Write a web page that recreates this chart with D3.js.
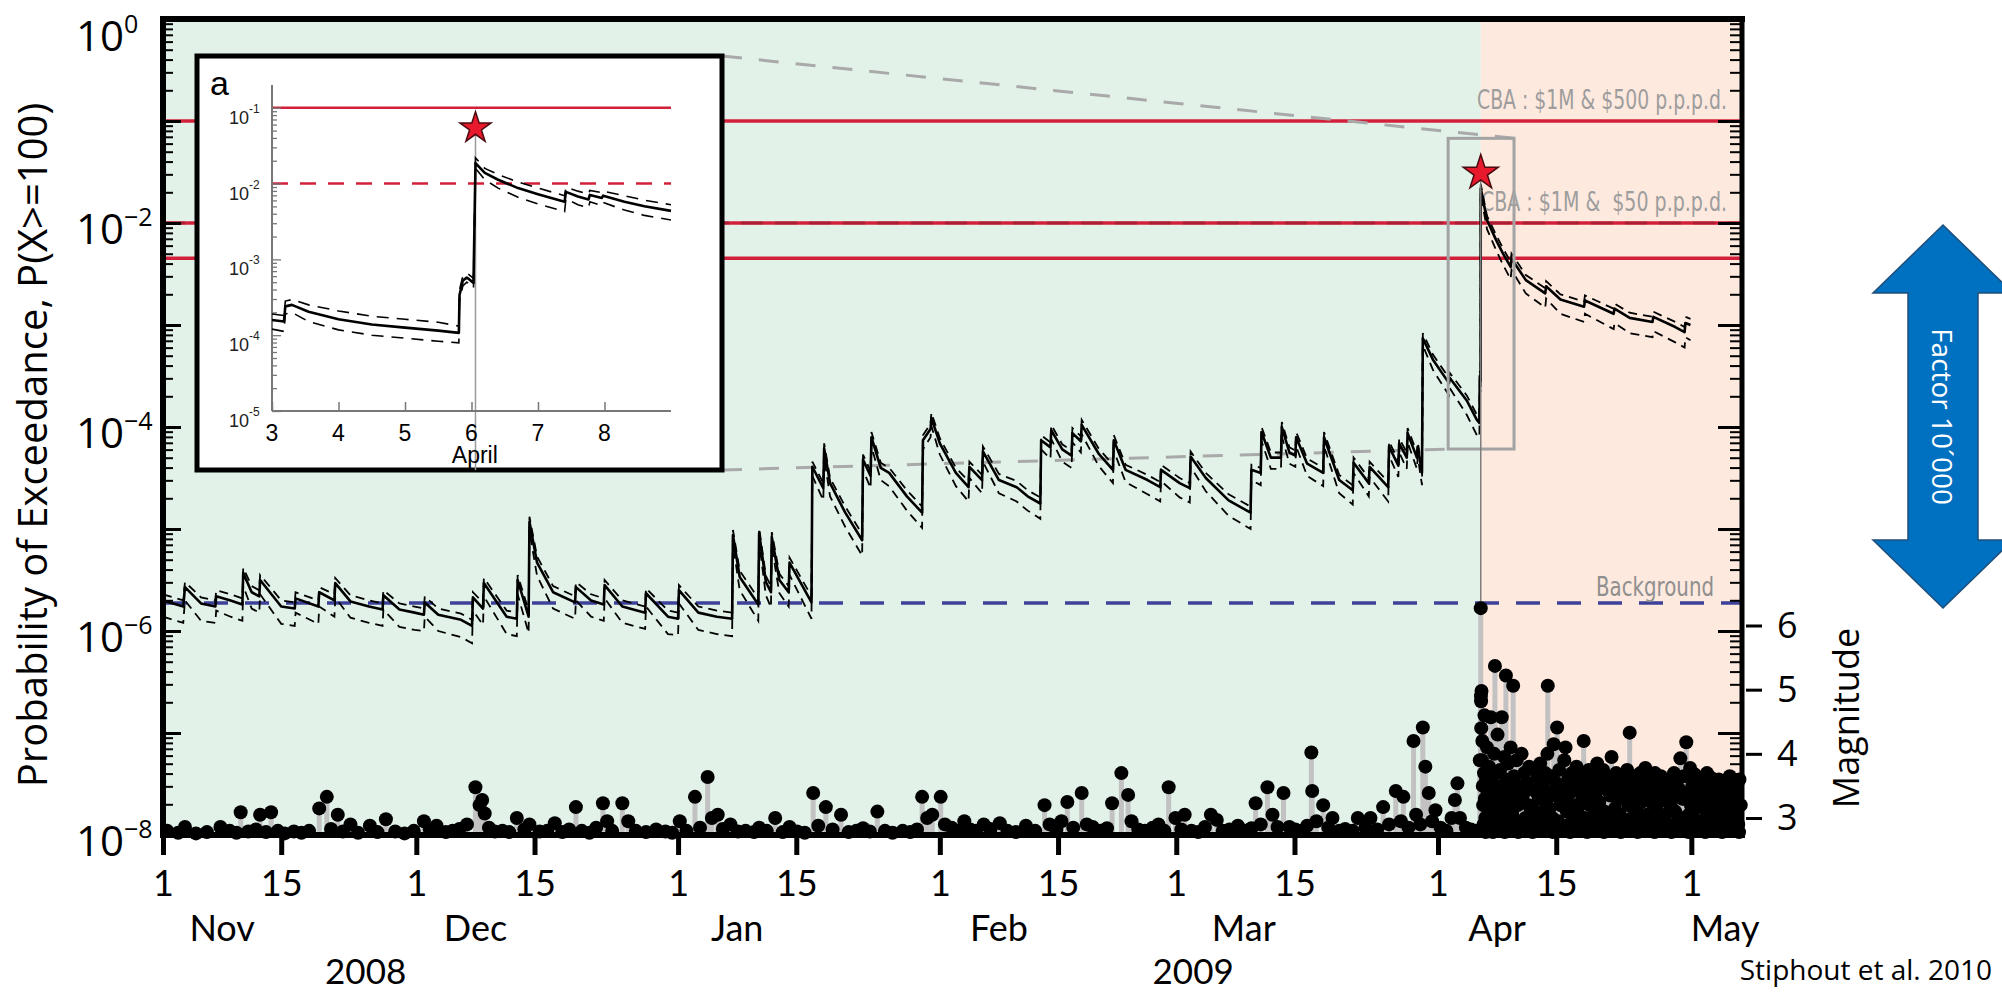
<!DOCTYPE html>
<html>
<head>
<meta charset="utf-8">
<script src="https://cdn.jsdelivr.net/npm/d3@7"></script>
<style>
  html, body { margin: 0; padding: 0; background: #ffffff; overflow: hidden; }
  svg { display: block; }
</style>
</head>
<body>
<svg id="chart" width="2002" height="995"></svg>
<script>
// ---------- data ----------
// x-axis ticks and labels
const monthTicks = ["2008-11-01","2008-11-15","2008-12-01","2008-12-15","2009-01-01","2009-01-15",
  "2009-02-01","2009-02-15","2009-03-01","2009-03-15","2009-04-01","2009-04-15","2009-05-01"];
const monthNames = ["Nov","Dec","Jan","Feb","Mar","Apr","May"];
const monthNameDates = ["2008-11-08","2008-12-08","2009-01-08","2009-02-08","2009-03-09","2009-04-08","2009-05-05"];
const yearNames = ["2008","2009"];
const yearDates = ["2008-11-25","2009-03-03"];

// y-axis labels (decade exponents) and magnitude ticks
const probDecadeLabels = [0, -2, -4, -6, -8];
const magTicks = [3, 4, 5, 6];

// action thresholds and background probability
const thresholds = [0.1, 0.01, 0.0045];
const thresholdLabels = ["CBA : $1M & $500 p.p.p.d.", "CBA : $1M &  $50 p.p.p.d."];
const backgroundLevel = 1.88e-6;

// 6 April 2009 mainshock (days after 1 Nov 2008)
const mainshockDay = 156.06;
const mainshockProb = 0.031;

// highlighted window shown enlarged in panel a: [startDay, endDay], [log10 low, log10 high]
const windowDays = [152.2, 160.0];
const windowLogP = [-4.216, -1.17];

// daily probability P(X>=100): [day after 1 Nov 2008, log10 P, log10 lower, log10 upper]
const probSeries = [
  [0,-5.70,-5.86,-5.64],[2.4,-5.76,-5.92,-5.70],[2.6,-5.57,-5.70,-5.52],[4.5,-5.73,-5.90,-5.67],
  [6.2,-5.76,-5.92,-5.70],[6.3,-5.66,-5.80,-5.60],[8.0,-5.70,-5.86,-5.64],[9.4,-5.74,-5.90,-5.68],
  [9.5,-5.43,-5.56,-5.38],[10.5,-5.62,-5.78,-5.56],[11.4,-5.66,-5.82,-5.60],[11.5,-5.50,-5.64,-5.45],
  [14.0,-5.76,-5.93,-5.70],[15.6,-5.78,-5.95,-5.72],[15.7,-5.68,-5.82,-5.62],[18.4,-5.76,-5.93,-5.70],
  [18.5,-5.62,-5.76,-5.57],[20.3,-5.70,-5.86,-5.64],[20.4,-5.53,-5.67,-5.48],[22.2,-5.71,-5.87,-5.65],
  [24.4,-5.76,-5.92,-5.70],[26.0,-5.79,-5.95,-5.73],[26.1,-5.65,-5.79,-5.60],[28.0,-5.79,-5.96,-5.73],
  [29.8,-5.82,-5.99,-5.76],[30.9,-5.84,-6.00,-5.78],[31.0,-5.72,-5.86,-5.66],[32.6,-5.84,-6.00,-5.78],
  [35.3,-5.89,-6.06,-5.83],[36.6,-5.95,-6.12,-5.89],[36.7,-5.67,-5.80,-5.62],[37.9,-5.78,-5.94,-5.72],
  [38.0,-5.53,-5.66,-5.48],[40.7,-5.86,-6.03,-5.80],[41.9,-5.88,-6.05,-5.82],[42.0,-5.50,-5.64,-5.45],
  [43.3,-5.86,-6.02,-5.80],[43.4,-4.93,-5.02,-4.88],[44.3,-5.33,-5.46,-5.27],[46.2,-5.62,-5.78,-5.56],
  [48.8,-5.72,-5.88,-5.66],[48.9,-5.57,-5.70,-5.52],[50.7,-5.70,-5.86,-5.64],[52.2,-5.74,-5.90,-5.68],
  [52.3,-5.55,-5.68,-5.50],[54.4,-5.76,-5.92,-5.70],[57.1,-5.82,-5.98,-5.76],[57.2,-5.63,-5.76,-5.58],
  [59.8,-5.86,-6.03,-5.80],[61.0,-5.88,-6.04,-5.82],[61.1,-5.60,-5.73,-5.55],[63.4,-5.82,-5.99,-5.76],
  [65.6,-5.86,-6.03,-5.80],[67.4,-5.88,-6.05,-5.82],[67.5,-5.06,-5.15,-5.01],[68.3,-5.47,-5.60,-5.41],
  [70.5,-5.74,-5.90,-5.68],[70.6,-5.04,-5.13,-4.99],[71.4,-5.52,-5.65,-5.46],[72.0,-5.62,-5.77,-5.56],
  [72.1,-5.08,-5.17,-5.03],[73.0,-5.50,-5.63,-5.44],[74.1,-5.62,-5.76,-5.56],[74.2,-5.33,-5.45,-5.28],
  [76.8,-5.72,-5.88,-5.66],[76.9,-4.39,-4.48,-4.34],[78.2,-4.60,-4.72,-4.55],[78.3,-4.21,-4.30,-4.16],
  [79.0,-4.55,-4.68,-4.50],[80.8,-4.84,-4.98,-4.78],[82.8,-5.11,-5.26,-5.05],[82.9,-4.32,-4.42,-4.27],
  [83.8,-4.48,-4.60,-4.43],[83.9,-4.10,-4.19,-4.05],[85.0,-4.40,-4.52,-4.35],[86.0,-4.45,-4.58,-4.40],
  [88.1,-4.68,-4.82,-4.62],[89.9,-4.84,-4.99,-4.78],[90.0,-4.13,-4.22,-4.08],[90.9,-4.02,-4.10,-3.97],
  [91.0,-3.91,-3.99,-3.86],[92.0,-4.16,-4.27,-4.11],[93.9,-4.45,-4.58,-4.40],[95.4,-4.59,-4.73,-4.53],
  [95.5,-4.39,-4.50,-4.34],[97.0,-4.52,-4.65,-4.47],[97.1,-4.24,-4.34,-4.19],[99.0,-4.52,-4.65,-4.46],
  [101.1,-4.59,-4.73,-4.53],[102.4,-4.68,-4.82,-4.62],[103.9,-4.75,-4.90,-4.69],[104.0,-4.13,-4.22,-4.08],
  [105.1,-4.20,-4.31,-4.15],[105.2,-4.03,-4.12,-3.98],[106.5,-4.22,-4.34,-4.17],[107.6,-4.28,-4.40,-4.23],
  [107.7,-4.06,-4.15,-4.01],[108.7,-4.14,-4.25,-4.09],[108.8,-3.98,-4.07,-3.93],[110.8,-4.26,-4.38,-4.21],
  [112.5,-4.42,-4.55,-4.37],[112.6,-4.13,-4.23,-4.08],[114.0,-4.42,-4.54,-4.37],[116.6,-4.52,-4.66,-4.47],
  [118.1,-4.59,-4.73,-4.54],[118.2,-4.42,-4.53,-4.37],[120.4,-4.55,-4.69,-4.50],[121.6,-4.60,-4.74,-4.55],
  [121.7,-4.29,-4.39,-4.24],[123.5,-4.50,-4.63,-4.45],[126.2,-4.72,-4.87,-4.66],[128.8,-4.84,-5.00,-4.78],
  [128.9,-4.42,-4.52,-4.37],[130.0,-4.45,-4.57,-4.40],[130.1,-4.05,-4.14,-4.00],[131.2,-4.30,-4.41,-4.25],
  [132.4,-4.30,-4.41,-4.25],[132.5,-4.00,-4.09,-3.95],[133.4,-4.25,-4.36,-4.20],[134.1,-4.28,-4.39,-4.23],
  [134.2,-4.10,-4.19,-4.05],[135.5,-4.36,-4.48,-4.31],[137.4,-4.45,-4.58,-4.40],[137.5,-4.10,-4.19,-4.05],
  [139.3,-4.52,-4.65,-4.47],[140.9,-4.62,-4.76,-4.57],[141.0,-4.35,-4.45,-4.30],[142.8,-4.55,-4.68,-4.50],
  [142.9,-4.39,-4.49,-4.34],[145.1,-4.59,-4.73,-4.54],[145.2,-4.19,-4.28,-4.14],[146.3,-4.38,-4.49,-4.33],
  [146.4,-4.16,-4.25,-4.11],[147.3,-4.30,-4.41,-4.25],[147.4,-4.06,-4.15,-4.01],[148.5,-4.30,-4.41,-4.25],
  [148.6,-4.20,-4.29,-4.15],[149.1,-4.45,-4.57,-4.40],[149.2,-3.13,-3.20,-3.08],[150.4,-3.34,-3.44,-3.29],
  [152.3,-3.57,-3.69,-3.52],[152.4,-3.52,-3.62,-3.47],[154.4,-3.74,-3.88,-3.69],[155.6,-3.93,-4.08,-3.88],
  [155.9,-3.96,-4.10,-3.91],[155.95,-3.50,-3.60,-3.45],[156.05,-3.55,-3.66,-3.50],[156.06,-1.66,-1.72,-1.62],
  [156.8,-1.97,-2.06,-1.93],[157.9,-2.17,-2.27,-2.12],[158.7,-2.30,-2.41,-2.25],[159.6,-2.43,-2.55,-2.38],
  [159.7,-2.35,-2.46,-2.30],[161.4,-2.56,-2.69,-2.51],[163.7,-2.69,-2.83,-2.64],[163.8,-2.62,-2.74,-2.57],
  [165.5,-2.75,-2.89,-2.70],[168.3,-2.82,-2.97,-2.77],[168.4,-2.76,-2.89,-2.71],[171.8,-2.89,-3.04,-2.84],
  [171.9,-2.84,-2.98,-2.79],[173.7,-2.93,-3.08,-2.88],[176.4,-2.97,-3.12,-2.92],[176.5,-2.92,-3.06,-2.87],
  [179.1,-3.02,-3.17,-2.97],[180.2,-3.07,-3.22,-3.02],[180.3,-2.98,-3.12,-2.92],[180.9,-3.00,-3.15,-2.94]
];

// earthquakes before the mainshock: [day after 1 Nov 2008, magnitude]
const quakesBefore = [
  [0.5,2.8],[1.8,2.77],[2.6,2.86],[3.9,2.76],[5.2,2.78],[6.8,2.86],[7.9,2.8],[8.7,2.77],[9.2,3.09],[10.1,2.79],
  [11.0,2.82],[11.5,3.05],[12.2,2.78],[12.8,3.09],[13.6,2.8],[14.4,2.76],[15.5,2.79],[16.4,2.77],[17.3,2.8],[18.5,3.15],
  [19.4,3.33],[19.9,2.83],[20.7,3.05],[21.3,2.79],[22.2,2.9],[23.1,2.77],[24.5,2.88],[25.4,2.78],[26.4,2.98],[27.5,2.79],
  [28.6,2.76],[29.7,2.8],[30.9,2.95],[31.6,2.82],[32.4,2.88],[33.5,2.78],[34.3,2.8],[35.1,2.83],[36.0,2.9],[37.0,3.48],
  [37.5,3.2],[37.8,3.28],[38.1,3.07],[38.6,2.85],[39.3,2.79],[40.2,2.8],[41.0,2.78],[41.9,3.0],[42.8,2.82],[43.4,2.9],
  [44.6,2.79],[45.5,2.8],[46.4,2.92],[47.3,2.78],[48.1,2.82],[48.9,3.17],[49.6,2.8],[50.5,2.77],[51.3,2.85],[52.1,3.23],
  [52.6,2.95],[53.2,2.8],[54.4,3.23],[55.1,2.95],[56.0,2.8],[57.2,2.78],[58.4,2.82],[59.5,2.79],[60.3,2.77],[61.2,2.95],
  [62.0,2.8],[63.0,3.33],[63.6,2.85],[64.5,3.64],[65.0,3.0],[65.7,3.05],[66.3,2.83],[67.2,2.9],[68.1,2.79],[69.0,2.8],
  [70.0,2.78],[70.6,2.85],[71.5,2.8],[72.5,3.0],[73.4,2.78],[74.2,2.86],[75.1,2.79],[76.0,2.77],[77.0,3.39],[77.6,2.88],
  [78.5,3.17],[79.3,2.82],[80.3,3.05],[81.2,2.78],[82.1,2.8],[82.9,2.84],[83.7,2.79],[84.6,3.1],[85.5,2.8],[86.4,2.77],
  [87.6,2.8],[88.5,2.78],[89.3,2.82],[89.9,3.33],[90.5,3.0],[91.1,3.05],[92.1,3.33],[92.6,2.9],[93.4,2.85],[94.1,2.8],
  [94.9,2.95],[95.6,2.82],[96.3,2.8],[97.2,2.9],[98.0,2.83],[99.1,2.92],[100.0,2.8],[101.0,2.78],[102.2,2.88],[103.3,2.8],
  [104.4,3.2],[105.0,2.9],[105.8,2.82],[106.4,2.95],[107.1,3.25],[107.8,2.85],[108.8,3.39],[109.4,2.9],[110.1,2.86],[111.0,2.8],
  [111.8,2.84],[112.4,3.23],[113.5,3.7],[114.3,3.36],[114.7,2.95],[115.5,2.82],[116.3,2.8],[117.2,2.85],[117.9,2.9],[118.6,2.8],
  [119.1,3.48],[119.9,3.0],[120.6,2.82],[121.0,3.05],[121.8,2.8],[122.6,2.78],[123.4,2.86],[124.1,3.05],[124.8,2.97],[125.5,2.8],
  [126.3,2.82],[127.3,2.88],[128.1,2.8],[128.9,2.84],[129.4,3.23],[130.0,2.9],[130.8,3.48],[131.4,3.05],[132.0,2.86],[132.7,3.39],
  [133.4,2.86],[134.1,2.82],[134.9,2.8],[135.5,2.88],[136.0,4.02],[136.1,3.42],[136.6,2.95],[137.4,3.2],[138.0,2.85],[138.5,3.0],
  [139.3,2.8],[140.0,2.83],[140.9,2.8],[141.5,3.0],[142.4,2.85],[143.0,3.0],[143.8,2.82],[144.5,3.17],[145.2,2.9],[146.0,3.42],
  [146.6,2.95],[146.9,3.33],[147.5,2.85],[148.1,4.2],[148.4,3.05],[148.9,2.9],[149.2,4.41],[149.5,3.8],[149.9,3.39],[150.3,2.95],
  [150.7,3.12],[151.3,2.85],[152.0,2.8],[152.6,3.0],[153.0,3.28],[153.3,3.54],[153.6,3.0],[154.3,2.85],[154.9,2.82],[155.5,2.8],
  [155.95,3.9]
];

// mainshock and aftershocks: [day after 1 Nov 2008, magnitude]
const quakesAfter = [
  [156.06,6.27],
  [156.08,4.9],[156.1,4.82],[156.12,4.4],[156.15,4.98],[156.2,3.9],[156.25,4.2],[156.3,3.5],[156.35,3.2],[156.4,2.9],
  [156.45,3.7],[156.5,4.6],[156.55,3.3],[156.6,3.0],[156.7,3.6],[156.75,2.85],[156.8,4.1],[156.9,3.4],[156.95,3.05],
  [157.05,3.8],[157.15,2.9],[157.25,4.57],[157.35,3.25],[157.45,3.55],[157.55,2.95],[157.65,4.0],[157.74,5.37],[157.8,3.15],[157.9,3.7],[157.95,2.8],
  [158.05,4.3],[158.15,3.4],[158.25,2.9],[158.35,3.75],[158.45,3.1],[158.55,4.57],[158.65,3.5],[158.75,2.85],[158.85,3.95],[158.95,3.2],
  [159.04,5.22],[159.1,3.6],[159.2,3.0],[159.3,3.85],[159.4,3.3],[159.5,2.9],[159.6,4.1],[159.7,3.45],[159.8,3.05],[159.9,5.06],
  [160.0,3.65],[160.15,2.95],[160.3,3.9],[160.45,3.2],[160.6,3.5],[160.75,2.85],[160.9,4.0],
  [161.05,3.35],[161.2,3.7],[161.35,3.0],[161.5,3.55],[161.65,2.9],[161.8,3.8],[161.95,3.15],
  [162.1,3.45],[162.25,2.85],[162.4,3.75],[162.55,3.1],[162.7,3.6],[162.85,2.95],[162.95,3.3],
  [163.1,3.85],[163.25,3.05],[163.4,3.5],[163.55,2.9],[163.7,3.7],[163.85,3.2],[163.95,4.0],
  [164.0,5.06],[164.1,3.4],[164.25,2.85],[164.4,3.65],[164.55,3.0],[164.7,4.15],[164.85,3.35],[164.95,3.55],
  [165.1,4.41],[165.2,2.95],[165.35,3.75],[165.5,3.2],[165.65,3.5],[165.8,2.85],[165.95,3.9],
  [166.1,4.1],[166.25,3.1],[166.4,3.6],[166.55,2.9],[166.7,3.4],[166.85,3.7],[166.95,3.0],
  [167.1,3.55],[167.25,2.85],[167.4,3.8],[167.55,3.15],[167.7,3.45],[167.85,2.95],[167.95,3.65],
  [168.1,3.3],[168.25,4.2],[168.4,3.0],[168.55,3.6],[168.7,2.9],[168.85,3.75],[168.95,3.2],
  [169.1,3.5],[169.25,2.85],[169.4,3.7],[169.55,3.05],[169.7,3.4],[169.85,3.85],[169.95,2.95],
  [170.1,3.25],[170.25,3.6],[170.4,2.9],[170.55,3.75],[170.7,3.1],[170.85,3.45],[170.95,2.8],
  [171.1,3.65],[171.25,3.0],[171.4,3.35],[171.55,3.95],[171.7,2.9],[171.85,3.55],[171.95,3.15],
  [172.1,3.7],[172.25,2.85],[172.4,3.45],[172.55,3.05],[172.7,3.6],[172.85,2.95],[172.95,3.3],
  [173.1,3.5],[173.25,2.9],[173.4,3.75],[173.55,3.2],[173.7,4.33],[173.8,3.58],[173.95,3.0],
  [174.1,3.4],[174.25,2.85],[174.4,3.65],[174.55,3.1],[174.7,3.5],[174.85,2.95],[174.95,3.7],
  [175.1,3.25],[175.25,3.55],[175.4,2.9],[175.55,3.78],[175.7,3.05],[175.85,3.4],[175.95,2.85],
  [176.1,3.6],[176.25,3.0],[176.4,3.35],[176.55,2.9],[176.7,3.7],[176.85,3.15],[176.95,3.5],
  [177.1,2.95],[177.25,3.45],[177.4,3.65],[177.55,2.85],[177.7,3.3],[177.85,3.55],[177.95,3.05],
  [178.1,3.4],[178.25,2.9],[178.4,3.6],[178.55,3.2],[178.7,3.5],[178.85,2.8],[178.95,3.7],
  [179.1,3.1],[179.25,3.55],[179.4,2.95],[179.55,3.45],[179.7,3.93],[179.85,3.0],[179.95,3.3],
  [180.1,3.65],[180.25,2.85],[180.4,4.18],[180.55,3.35],[180.7,3.05],[180.85,3.78],[180.95,3.2],
  [181.1,3.5],[181.25,2.9],[181.4,3.68],[181.55,3.15],[181.7,3.58],[181.85,2.95],[181.95,3.4],
  [182.1,3.25],[182.25,3.6],[182.4,2.85],[182.55,3.45],[182.7,3.0],[182.85,3.7],[182.95,3.1],
  [183.1,3.55],[183.25,2.9],[183.4,3.62],[183.55,3.2],[183.7,3.4],[183.85,2.85],[183.95,3.5],
  [184.1,3.05],[184.25,3.6],[184.4,3.3],[184.55,2.9],[184.7,3.55],[184.85,3.15],[184.95,3.45],
  [185.1,2.95],[185.25,3.5],[185.4,3.2],[185.55,3.65],[185.7,2.85],[185.85,3.35],[185.95,3.05],
  [186.1,3.55],[186.25,3.0],[186.4,3.4],[186.55,2.9],[186.7,3.6],[186.85,3.2],
  [156.18,2.8],[156.65,2.78],[157.1,3.35],[157.5,2.78],[157.85,3.5],[158.2,2.8],[158.6,3.25],[158.9,2.78],
  [159.15,3.4],[159.55,2.8],[160.05,3.3],[160.5,2.78],[160.85,3.35],[161.3,2.8],[161.75,3.2],[162.2,2.78],
  [162.65,3.4],[163.2,2.8],[163.65,3.3],[164.2,3.15],[164.6,2.78],[165.25,3.4],[165.7,2.8],[166.2,3.3],
  [166.65,2.78],[167.2,3.2],[167.65,2.8],[168.2,3.45],[168.65,2.78],[169.2,3.3],[169.65,2.8],[170.2,3.15],
  [170.65,2.78],[171.2,3.45],[171.65,2.8],[172.2,3.3],[172.65,2.78],[173.2,3.35],[173.65,2.8],[174.2,3.25],
  [174.65,2.78],[175.2,3.35],[175.65,2.8],[176.2,3.25],[176.65,2.78],[177.2,3.3],[177.65,2.8],[178.2,3.25],
  [178.65,2.78],[179.2,3.35],[179.65,2.8],[180.2,3.3],[180.65,2.78],[181.2,3.3],[181.65,2.8],[182.2,3.35],
  [182.65,2.78],[183.2,3.3],[183.65,2.8],[184.2,3.35],[184.65,2.78],[185.2,3.3],[185.65,2.8],[186.2,3.25],
  [186.65,2.78]
];

// panel a: 3-9 April 2009, [day of April, log10 P, log10 lower, log10 upper]
const insetSeries = [
  [3.00,-3.80,-3.92,-3.72],[3.18,-3.82,-3.95,-3.74],[3.20,-3.62,-3.72,-3.55],[3.30,-3.60,-3.70,-3.53],
  [3.55,-3.69,-3.82,-3.60],[4.00,-3.79,-3.93,-3.68],[4.50,-3.86,-4.00,-3.75],[5.00,-3.90,-4.04,-3.79],
  [5.50,-3.94,-4.08,-3.83],[5.81,-3.97,-4.10,-3.88],[5.82,-3.47,-3.55,-3.40],[5.87,-3.28,-3.35,-3.22],
  [5.93,-3.24,-3.30,-3.18],[6.03,-3.31,-3.38,-3.25],[6.06,-1.73,-1.80,-1.66],[6.20,-1.86,-1.95,-1.80],
  [6.40,-1.95,-2.06,-1.88],[6.70,-2.06,-2.18,-1.98],[7.00,-2.14,-2.27,-2.06],[7.40,-2.24,-2.37,-2.16],
  [7.42,-2.11,-2.20,-2.05],[7.60,-2.17,-2.28,-2.10],[7.76,-2.21,-2.32,-2.14],[7.78,-2.15,-2.24,-2.09],
  [7.96,-2.19,-2.29,-2.12],[7.98,-2.16,-2.25,-2.10],[8.30,-2.24,-2.35,-2.16],[8.60,-2.30,-2.42,-2.22],
  [9.00,-2.36,-2.48,-2.28]
];
const insetTicks = [3, 4, 5, 6, 7, 8];
const insetDecades = [-1, -2, -3, -4, -5];
const insetThresholds = [0.1, 0.01];
const insetMainshockDay = 6.06;
const insetStarProb = 0.054;

// ---------- layout ----------
const svg = d3.select("#chart");
const plot = { left: 163, right: 1742, top: 19, bottom: 835 };
const parseDay = d3.utcParse("%Y-%m-%d");
const t0 = Date.UTC(2008, 10, 1);
const dayDate = d => new Date(t0 + d * 864e5);

const x = d3.scaleUtc().domain([dayDate(0), dayDate(187)]).range([plot.left, plot.right]);
const y = d3.scaleLog().domain([1e-8, 1]).range([plot.bottom, plot.top]);
const mag = d3.scaleLinear().domain([3, 6]).range([818, 625.5]);
const xd = d => x(dayDate(d));
const yl = l => y(Math.pow(10, l));
const shockX = xd(mainshockDay);

// ---------- background periods ----------
svg.append("rect").attr("x", plot.left).attr("y", plot.top)
  .attr("width", shockX - plot.left).attr("height", plot.bottom - plot.top).attr("fill", "#e2f2e9");
svg.append("rect").attr("x", shockX).attr("y", plot.top)
  .attr("width", plot.right - shockX).attr("height", plot.bottom - plot.top).attr("fill", "#fde9de");

// ---------- reference levels ----------
thresholds.forEach(v => {
  svg.append("line").attr("x1", plot.left).attr("x2", plot.right).attr("y1", y(v)).attr("y2", y(v))
    .attr("stroke", "#d3203a").attr("stroke-width", 3.5);
});
svg.append("line").attr("x1", plot.left).attr("x2", plot.right)
  .attr("y1", y(thresholds[1])).attr("y2", y(thresholds[1]))
  .attr("stroke", "#8e1a2c").attr("stroke-width", 3).attr("stroke-dasharray", "22,12").attr("opacity", 0.55);

svg.append("line").attr("x1", plot.left).attr("x2", plot.right)
  .attr("y1", y(backgroundLevel)).attr("y2", y(backgroundLevel))
  .attr("stroke", "#3d4199").attr("stroke-width", 3.5).attr("stroke-dasharray", "24,17");

const labelFont = "'Liberation Sans Narrow','DejaVu Sans Condensed','Liberation Sans',sans-serif";
thresholdLabels.forEach((t, i) => {
  svg.append("text").attr("x", 1727).attr("y", y(thresholds[i]) - 12)
    .attr("text-anchor", "end").attr("font-family", labelFont).attr("font-size", 26)
    .attr("fill", "#9d9d9d").style("white-space", "pre")
    .attr("textLength", i === 0 ? 250 : 246).attr("lengthAdjust", "spacingAndGlyphs").text(t);
});
svg.append("text").attr("x", 1714).attr("y", y(backgroundLevel) - 7)
  .attr("text-anchor", "end").attr("font-family", labelFont).attr("font-size", 26)
  .attr("fill", "#8f8f8f").attr("textLength", 118).attr("lengthAdjust", "spacingAndGlyphs").text("Background");

// ---------- zoom window and connectors ----------
const wx0 = xd(windowDays[0]), wx1 = xd(windowDays[1]);
const wy0 = yl(windowLogP[1]), wy1 = yl(windowLogP[0]);
const inset = { left: 197, top: 56, right: 722, bottom: 470 };
svg.append("line").attr("x1", inset.right).attr("y1", inset.top).attr("x2", wx1).attr("y2", wy0)
  .attr("stroke", "#a9a9a9").attr("stroke-width", 3).attr("stroke-dasharray", "20,17");
svg.append("line").attr("x1", inset.right).attr("y1", inset.bottom).attr("x2", wx0).attr("y2", wy1)
  .attr("stroke", "#a9a9a9").attr("stroke-width", 3).attr("stroke-dasharray", "20,17");

// ---------- probability series ----------
const lineOf = k => d3.line().x(d => xd(d[0])).y(d => yl(d[k]));
[2, 3].forEach(k => {
  svg.append("path").datum(probSeries).attr("d", lineOf(k)).attr("fill", "none")
    .attr("stroke", "#000").attr("stroke-width", 1.8).attr("stroke-dasharray", "9,6");
});
svg.append("path").datum(probSeries).attr("d", lineOf(1)).attr("fill", "none")
  .attr("stroke", "#000").attr("stroke-width", 2.6).attr("stroke-linejoin", "round");

svg.append("rect").attr("x", wx0).attr("y", wy0).attr("width", wx1 - wx0).attr("height", wy1 - wy0)
  .attr("fill", "none").attr("stroke", "#a3a3a3").attr("stroke-width", 3);

// mainshock marker line
svg.append("line").attr("x1", shockX).attr("x2", shockX)
  .attr("y1", y(mainshockProb)).attr("y2", mag(quakesAfter[0][1]))
  .attr("stroke", "#7d7d7d").attr("stroke-width", 1.5);

// ---------- earthquakes ----------
const quakes = quakesBefore.concat(quakesAfter);
svg.append("g").selectAll("line").data(quakes).join("line")
  .attr("x1", d => xd(d[0])).attr("x2", d => xd(d[0]))
  .attr("y1", plot.bottom).attr("y2", d => mag(d[1]))
  .attr("stroke", "#c2c2c2").attr("stroke-width", 5);
svg.append("g").selectAll("circle").data(quakes).join("circle")
  .attr("cx", d => xd(d[0])).attr("cy", d => mag(d[1])).attr("r", 7).attr("fill", "#000");

// ---------- star on the mainshock ----------
const starPath = d3.symbol(d3.symbolStar);
svg.append("path").attr("d", starPath.size(380)())
  .attr("transform", `translate(${shockX},${y(mainshockProb)})`)
  .attr("fill", "#e8192c").attr("stroke", "#4a0a10").attr("stroke-width", 1.5);

// ---------- axes ----------
const minorVals = [], majorVals = [];
for (let e = -8; e <= 0; e++) {
  majorVals.push(Math.pow(10, e));
  if (e < 0) for (let k = 2; k <= 9; k++) minorVals.push(k * Math.pow(10, e));
}
function tickAxis(gen, vals, size, width, tx) {
  const g = svg.append("g").attr("transform", `translate(${tx},0)`)
    .call(gen(y).tickValues(vals).tickSize(size).tickFormat(""));
  g.select(".domain").remove();
  g.selectAll(".tick line").attr("stroke", "#000").attr("stroke-width", width);
}
tickAxis(d3.axisRight, minorVals, 10, 2, plot.left);
tickAxis(d3.axisRight, majorVals, 18, 3, plot.left);
tickAxis(d3.axisLeft, minorVals, 12, 2, plot.right);
tickAxis(d3.axisLeft, majorVals, 24, 3, plot.right);

const xAxis = d3.axisBottom(x).tickValues(monthTicks.map(parseDay))
  .tickFormat(d3.utcFormat("%-d")).tickSize(20).tickPadding(15);
const gx = svg.append("g").attr("transform", `translate(0,${plot.bottom})`).call(xAxis);
gx.select(".domain").remove();
gx.selectAll(".tick line").attr("stroke", "#000").attr("stroke-width", 5);
gx.selectAll(".tick text").attr("font-family", "Lato, sans-serif").attr("font-size", 36).attr("fill", "#000");

svg.append("g").selectAll("text").data(monthNames).join("text")
  .attr("x", (d, i) => x(parseDay(monthNameDates[i]))).attr("y", 941)
  .attr("text-anchor", "middle").attr("font-family", "Lato, sans-serif").attr("font-size", 36).text(d => d);
svg.append("g").selectAll("text").data(yearNames).join("text")
  .attr("x", (d, i) => x(parseDay(yearDates[i]))).attr("y", 984)
  .attr("text-anchor", "middle").attr("font-family", "Lato, sans-serif").attr("font-size", 35).text(d => d);

// frame
const frame = svg.append("g").attr("stroke", "#000").attr("stroke-linecap", "square");
frame.append("line").attr("x1", plot.left).attr("x2", plot.right).attr("y1", plot.top).attr("y2", plot.top).attr("stroke-width", 6);
frame.append("line").attr("x1", plot.left).attr("x2", plot.right).attr("y1", plot.bottom).attr("y2", plot.bottom).attr("stroke-width", 6);
frame.append("line").attr("x1", plot.left).attr("x2", plot.left).attr("y1", plot.top).attr("y2", plot.bottom).attr("stroke-width", 6);
frame.append("line").attr("x1", plot.right).attr("x2", plot.right).attr("y1", plot.top).attr("y2", plot.bottom).attr("stroke-width", 5);

// probability labels 10^e (the top one sits inside the plot's upper edge)
const yLab = svg.append("g").attr("font-family", "'Open Sans','Noto Sans',sans-serif").attr("fill", "#000");
probDecadeLabels.forEach(e => {
  const base = Math.max(y(Math.pow(10, e)) + 21, 51);
  const t = yLab.append("text").attr("x", 76).attr("y", base).attr("font-size", 42);
  t.append("tspan").text("10");
  t.append("tspan").attr("dy", -18).attr("font-size", 25).text(e === 0 ? "0" : "\u2212" + (-e));
});
svg.append("text").attr("transform", "translate(31,445) rotate(-90)")
  .attr("text-anchor", "middle").attr("dominant-baseline", "central")
  .attr("font-family", "'Open Sans','Noto Sans',sans-serif").attr("font-size", 40)
  .text("Probability of Exceedance, P(X>=100)");

// magnitude axis
const gm = svg.append("g").attr("transform", `translate(${plot.right + 4},0)`)
  .call(d3.axisRight(mag).tickValues(magTicks).tickSize(16).tickPadding(15).tickFormat(d3.format("d")));
gm.select(".domain").remove();
gm.selectAll(".tick line").attr("stroke", "#000").attr("stroke-width", 3);
gm.selectAll(".tick text").attr("font-family", "'Open Sans','Noto Sans',sans-serif").attr("font-size", 36).attr("fill", "#000");
svg.append("text").attr("transform", "translate(1845,718) rotate(-90)")
  .attr("text-anchor", "middle").attr("dominant-baseline", "central")
  .attr("font-family", "'Open Sans','Noto Sans',sans-serif").attr("font-size", 36).text("Magnitude");

// ---------- panel a ----------
const ix = d3.scaleLinear().domain([3, 9]).range([272, 671]);
const iy = d3.scaleLog().domain([1e-5, Math.pow(10, -0.7)]).range([411, 85]);
const ixl = l => iy(Math.pow(10, l));
const pa = svg.append("g");
pa.append("rect").attr("x", inset.left).attr("y", inset.top)
  .attr("width", inset.right - inset.left).attr("height", inset.bottom - inset.top)
  .attr("fill", "#fff").attr("stroke", "#000").attr("stroke-width", 5);
pa.append("text").attr("x", 210).attr("y", 95).attr("font-family", "'Liberation Sans',Arial,sans-serif")
  .attr("font-size", 34).text("a");

insetThresholds.forEach((v, i) => {
  pa.append("line").attr("x1", ix(3)).attr("x2", ix(9)).attr("y1", iy(v)).attr("y2", iy(v))
    .attr("stroke", "#d3203a").attr("stroke-width", 2.6)
    .attr("stroke-dasharray", i === 1 ? "16,12" : null);
});
// marker line at the mainshock
const istarY = iy(insetStarProb);
pa.append("line").attr("x1", ix(insetMainshockDay)).attr("x2", ix(insetMainshockDay))
  .attr("y1", istarY).attr("y2", inset.bottom).attr("stroke", "#9a9a9a").attr("stroke-width", 1.5);

// inset axes
const iMinor = [], iMajor = [];
for (let e = -5; e <= -1; e++) {
  iMajor.push(Math.pow(10, e));
  for (let k = 2; k <= 9; k++) if (k * Math.pow(10, e) <= Math.pow(10, -0.7)) iMinor.push(k * Math.pow(10, e));
}
[[iMinor, 5], [iMajor, 9]].forEach(([vals, s]) => {
  const g = pa.append("g").attr("transform", `translate(${ix(3)},0)`)
    .call(d3.axisRight(iy).tickValues(vals).tickSize(s).tickFormat(""));
  g.select(".domain").remove();
  g.selectAll(".tick line").attr("stroke", "#777").attr("stroke-width", 1.3);
});
pa.append("line").attr("x1", ix(3)).attr("x2", ix(3)).attr("y1", iy(Math.pow(10, -0.7))).attr("y2", iy(1e-5))
  .attr("stroke", "#777").attr("stroke-width", 2);
const gix = pa.append("g").attr("transform", `translate(0,${iy(1e-5)})`)
  .call(d3.axisTop(ix).tickValues(insetTicks).tickSize(9).tickFormat(""));
gix.select(".domain").remove();
gix.selectAll(".tick line").attr("stroke", "#777").attr("stroke-width", 1.5);
pa.append("line").attr("x1", ix(3)).attr("x2", ix(9)).attr("y1", iy(1e-5)).attr("y2", iy(1e-5))
  .attr("stroke", "#777").attr("stroke-width", 2);
pa.append("g").selectAll("text").data(insetTicks).join("text")
  .attr("x", d => ix(d)).attr("y", 441).attr("text-anchor", "middle")
  .attr("font-family", "'Liberation Sans',Arial,sans-serif").attr("font-size", 23).text(d => d);
pa.append("text").attr("x", ix(6.05)).attr("y", 463).attr("text-anchor", "middle")
  .attr("font-family", "'Liberation Sans',Arial,sans-serif").attr("font-size", 23).text("April");
insetDecades.forEach(e => {
  const t = pa.append("text").attr("x", 229).attr("y", iy(Math.pow(10, e)) + 16)
    .attr("font-family", "'Liberation Sans',Arial,sans-serif").attr("font-size", 18).attr("fill", "#222");
  t.append("tspan").text("10");
  t.append("tspan").attr("dy", -11).attr("font-size", 12).text("-" + (-e));
});

// inset series
const iline = k => d3.line().x(d => ix(d[0])).y(d => ixl(d[k]));
[2, 3].forEach(k => {
  pa.append("path").datum(insetSeries).attr("d", iline(k)).attr("fill", "none")
    .attr("stroke", "#000").attr("stroke-width", 1.6).attr("stroke-dasharray", "12,8");
});
pa.append("path").datum(insetSeries).attr("d", iline(1)).attr("fill", "none")
  .attr("stroke", "#000").attr("stroke-width", 2.6).attr("stroke-linejoin", "round");
pa.append("path").attr("d", starPath.size(300)())
  .attr("transform", `translate(${ix(insetMainshockDay)},${istarY})`)
  .attr("fill", "#e8192c").attr("stroke", "#4a0a10").attr("stroke-width", 1.5);

// ---------- factor arrow between background and the 1% level ----------
const aTop = y(0.01) + 2, aBot = y(backgroundLevel) + 5, ax = 1943;
const headH = 68, headW = 70, shaftW = 35;
const arrowPts = [
  [ax, aTop], [ax + headW, aTop + headH], [ax + shaftW, aTop + headH], [ax + shaftW, aBot - headH],
  [ax + headW, aBot - headH], [ax, aBot], [ax - headW, aBot - headH], [ax - shaftW, aBot - headH],
  [ax - shaftW, aTop + headH], [ax - headW, aTop + headH]
];
svg.append("polygon").attr("points", arrowPts.map(p => p.join(",")).join(" "))
  .attr("fill", "#0070c0").attr("stroke", "#1f4e79").attr("stroke-width", 1.5);
svg.append("text").attr("transform", `translate(${ax},${(aTop + aBot) / 2}) rotate(90)`)
  .attr("text-anchor", "middle").attr("dominant-baseline", "central")
  .attr("font-family", "'Open Sans','Noto Sans',sans-serif").attr("font-size", 28).attr("fill", "#ffffff")
  .text("Factor 10\u00b4000");

// source note
svg.append("text").attr("x", 1992).attr("y", 980).attr("text-anchor", "end")
  .attr("font-family", "'Open Sans','Noto Sans',sans-serif").attr("font-size", 28).attr("fill", "#000")
  .text("Stiphout et al. 2010");
</script>
</body>
</html>
